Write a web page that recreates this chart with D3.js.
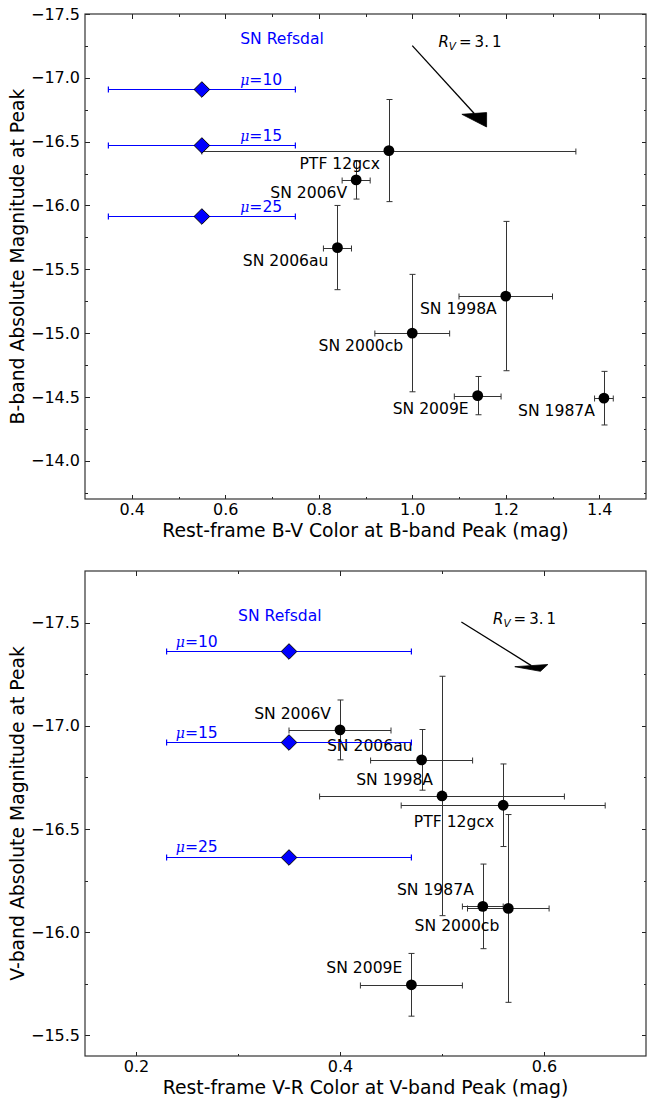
<!DOCTYPE html>
<html>
<head>
<meta charset="utf-8">
<script src="https://cdn.jsdelivr.net/npm/d3@7"></script>
<style>
  body { margin: 0; background: #fff; }
  svg text { font-family: "DejaVu Sans", sans-serif; }
</style>
</head>
<body>
<svg id="chart" width="647" height="1102"></svg>
<script>
// supernova comparison sample (same order in both panels)
var snNames = ["SN 1987A", "SN 1998A", "SN 2000cb", "SN 2006V", "SN 2006au", "SN 2009E", "PTF 12gcx"];

// top panel: B-V colour vs B-band peak magnitude
var bvColor    = [1.41, 1.20, 1.00, 0.88, 0.84, 1.14, 0.95];
var bvColorErr = [0.02, 0.10, 0.08, 0.03, 0.03, 0.05, 0.40];
var bMag       = [-14.49, -15.29, -15.00, -16.20, -15.67, -14.51, -16.43];
var bMagErr    = [0.21, 0.585, 0.46, 0.15, 0.33, 0.15, 0.40];

// bottom panel: V-R colour vs V-band peak magnitude
var vrColor    = [0.54, 0.50, 0.565, 0.40, 0.48, 0.47, 0.56];
var vrColorErr = [0.02, 0.12, 0.04, 0.05, 0.05, 0.05, 0.10];
var vMag       = [-16.125, -16.66, -16.115, -16.98, -16.835, -15.745, -16.615];
var vMagErr    = [0.205, 0.58, 0.455, 0.145, 0.147, 0.152, 0.20];

// SN Refsdal for three magnifications
var mu = [10, 15, 25];
var refsdalBV = [0.55, 0.55, 0.55], refsdalBVErr = [0.20, 0.20, 0.20];
var refsdalB = [-16.91, -16.47, -15.915];
var refsdalVR = [0.35, 0.35, 0.35], refsdalVRErr = [0.12, 0.12, 0.12];
var refsdalV = [-17.36, -16.92, -16.365];

// reddening vectors (start, delta) for R_V = 3.1
var bvArrow = [1.0, -17.252, 0.159, 0.637];
var vrArrow = [0.519, -17.503, 0.0775, 0.239];

// axis ranges and ticks
var bvDomain = [0.3, 1.5], bMagDomain = [-17.5, -13.7];
var vrDomain = [0.15, 0.7], vMagDomain = [-17.75, -15.4];
var bvTicks = [0.4, 0.6, 0.8, 1.0, 1.2, 1.4];
var bvMinor = [0.5, 0.7, 0.9, 1.1, 1.3];
var bMagTicks = [-17.5, -17.0, -16.5, -16.0, -15.5, -15.0, -14.5, -14.0];
var bMagMinor = [-17.25, -16.75, -16.25, -15.75, -15.25, -14.75, -14.25, -13.75];
var vrTicks = [0.2, 0.4, 0.6];
var vrMinor = [0.3, 0.5];
var vMagTicks = [-17.5, -17.0, -16.5, -16.0, -15.5];
var vMagMinor = [-17.25, -16.75, -16.25, -15.75];

var svg = d3.select("#chart");
var left = 85, plotW = 561, plotH = 485;
var blue = "#0000ff";

function drawPanel(o){
  var g = svg.append("g").attr("transform", "translate(" + left + "," + o.top + ")");
  var x = d3.scaleLinear().domain(o.xDomain).range([0, plotW]);
  var y = d3.scaleLinear().domain(o.yDomain).range([0, plotH]);
  var fmt = d3.format(".1f");

  // ticks on all four sides, pointing inwards
  function axes(axisFn, scale, major, minor, tr, labels){
    var a = g.append("g").attr("transform", tr)
      .call(axisFn(scale).tickValues(major).tickSize(-4.5).tickPadding(labels ? 5 : 0)
        .tickFormat(labels ? fmt : ""));
    var b = g.append("g").attr("transform", tr)
      .call(axisFn(scale).tickValues(minor).tickSize(-2.5).tickFormat(""));
    [a, b].forEach(function(s){
      s.select(".domain").remove();
      s.selectAll("line").attr("stroke", "#222").attr("shape-rendering", "crispEdges");
      s.selectAll("text").attr("font-size", 16).attr("fill", "#000")
        .style("font-family", "DejaVu Sans");
    });
  }
  axes(d3.axisBottom, x, o.xTicks, o.xMinor, "translate(0," + plotH + ")", true);
  axes(d3.axisTop, x, o.xTicks, o.xMinor, "translate(0,0)", false);
  axes(d3.axisLeft, y, o.yTicks, o.yMinor, "translate(0,0)", true);
  axes(d3.axisRight, y, o.yTicks, o.yMinor, "translate(" + plotW + ",0)", false);

  g.append("rect")
    .attr("x", 0).attr("y", 0).attr("width", plotW).attr("height", plotH)
    .attr("fill", "none").attr("stroke", "#333").attr("stroke-width", 1.2);

  g.append("text")
    .attr("x", plotW/2).attr("y", plotH + 38)
    .attr("text-anchor", "middle").attr("font-size", 18.8)
    .text(o.xLabel);
  g.append("text")
    .attr("transform", "translate(" + (-61) + "," + (plotH/2) + ")rotate(-90)")
    .attr("text-anchor", "middle").attr("font-size", 18.8)
    .text(o.yLabel);

  // error bars helper
  function errorbars(xs, xe, ys, ye, color, width){
    var eg = g.append("g");
    function seg(x1, y1, x2, y2){
      eg.append("line")
        .attr("x1", x1).attr("y1", y1).attr("x2", x2).attr("y2", y2)
        .attr("stroke", color).attr("stroke-width", width);
    }
    xs.forEach(function(xv, i){
      var cx = x(xv), cy = Math.round(y(ys[i])) + 0.5;
      var x0 = x(xv - xe[i]), x1 = x(xv + xe[i]);
      seg(x0, cy, x1, cy);
      seg(x0, cy - 3, x0, cy + 3);
      seg(x1, cy - 3, x1, cy + 3);
      if(ye){
        var y0 = y(ys[i] - ye[i]), y1 = y(ys[i] + ye[i]);
        cx = Math.round(cx) + 0.5;
        seg(cx, y0, cx, y1);
        seg(cx - 3, y0, cx + 3, y0);
        seg(cx - 3, y1, cx + 3, y1);
      }
    });
  }

  // comparison supernovae
  errorbars(o.sx, o.sxe, o.sy, o.sye, "#333", 1);
  g.append("g").selectAll("circle")
    .data(o.sx)
    .enter()
    .append("circle")
      .attr("cx", function(d){ return x(d); })
      .attr("cy", function(d, i){ return y(o.sy[i]); })
      .attr("r", 5.4)
      .attr("fill", "#000");
  g.append("g").selectAll("text")
    .data(snNames)
    .enter()
    .append("text")
      .attr("x", function(d, i){ return x(o.sx[i]) - 9; })
      .attr("y", function(d, i){ return y(o.sy[i]) + o.labelDy[i]; })
      .attr("dy", "0.36em")
      .attr("text-anchor", "end")
      .attr("font-size", 15.6)
      .text(function(d){ return d; });

  // SN Refsdal
  errorbars(o.rx, o.rxe, o.ry, null, blue, 1.2);
  g.append("g").selectAll("path")
    .data(o.rx)
    .enter()
    .append("path")
      .attr("transform", function(d, i){ return "translate(" + x(d) + "," + (Math.round(y(o.ry[i])) + 0.5) + ")"; })
      .attr("d", "M0,-7.8L7.8,0L0,7.8L-7.8,0Z")
      .attr("fill", blue)
      .attr("stroke", "#000")
      .attr("stroke-width", 1);
  var mt = g.append("g").selectAll("text")
    .data(mu)
    .enter()
    .append("text")
      .attr("x", x(o.muX))
      .attr("y", function(d, i){ return y(o.ry[i]) - 4.5; })
      .attr("font-size", 15.6)
      .attr("fill", blue);
  mt.append("tspan").attr("font-family", "DejaVu Serif").attr("font-style", "italic")
    .attr("font-size", 14).text("\u03bc");
  mt.append("tspan").text(function(d){ return "=" + d; });
  g.append("text")
    .attr("x", x(o.refsdalX)).attr("y", y(o.refsdalY))
    .attr("font-size", 15.6).attr("fill", blue)
    .text("SN Refsdal");

  // reddening arrow
  var a = o.arrow;
  var ax1 = a[0] + a[2], ay1 = a[1] + a[3];
  var len = Math.sqrt(a[2]*a[2] + a[3]*a[3]);
  var ux = a[2]/len, uy = a[3]/len;
  var bx = ax1 - o.headLen*ux, by = ay1 - o.headLen*uy;
  var hw = o.headW/2;
  g.append("line")
    .attr("x1", x(a[0])).attr("y1", y(a[1]))
    .attr("x2", x(bx)).attr("y2", y(by))
    .attr("stroke", "#000").attr("stroke-width", 1.3);
  var head = [[ax1, ay1], [bx - uy*hw, by + ux*hw], [bx + uy*hw, by - ux*hw]];
  g.append("path")
    .attr("d", d3.line().x(function(p){ return x(p[0]); }).y(function(p){ return y(p[1]); })(head) + "Z")
    .attr("fill", "#000").attr("stroke", "#000").attr("stroke-width", 0.8);
  var rt = g.append("text")
    .attr("x", x(o.rvX)).attr("y", y(o.rvY))
    .attr("font-family", "DejaVu Serif").attr("font-size", 15);
  rt.append("tspan").attr("font-style", "italic").text("R");
  rt.append("tspan").attr("font-style", "italic").attr("font-size", 10.5).attr("dy", 3).text("V");
  rt.append("tspan").attr("dy", -3).text("\u2009=\u20093.\u20091");
}

drawPanel({
  top: 14,
  xDomain: bvDomain, yDomain: bMagDomain,
  xTicks: bvTicks, xMinor: bvMinor, yTicks: bMagTicks, yMinor: bMagMinor,
  xLabel: "Rest-frame B-V Color at B-band Peak (mag)",
  yLabel: "B-band Absolute Magnitude at Peak",
  sx: bvColor, sxe: bvColorErr, sy: bMag, sye: bMagErr,
  labelDy: [12.5, 12.5, 12.5, 12.5, 12.5, 12.5, 12.5],
  rx: refsdalBV, rxe: refsdalBVErr, ry: refsdalB,
  muX: 0.632, refsdalX: 0.632, refsdalY: -17.262,
  arrow: bvArrow, headLen: 0.109, headW: 0.0545,
  rvX: 1.056, rvY: -17.24
});

drawPanel({
  top: 571,
  xDomain: vrDomain, yDomain: vMagDomain,
  xTicks: vrTicks, xMinor: vrMinor, yTicks: vMagTicks, yMinor: vMagMinor,
  xLabel: "Rest-frame V-R Color at V-band Peak (mag)",
  yLabel: "V-band Absolute Magnitude at Peak",
  sx: vrColor, sxe: vrColorErr, sy: vMag, sye: vMagErr,
  labelDy: [-17, -17, 17, -17, -14, -17, 16],
  rx: refsdalVR, rxe: refsdalVRErr, ry: refsdalV,
  muX: 0.239, refsdalX: 0.300, refsdalY: -17.51,
  arrow: vrArrow, headLen: 0.029, headW: 0.034,
  rvX: 0.55, rvY: -17.493
});
</script>
</body>
</html>
